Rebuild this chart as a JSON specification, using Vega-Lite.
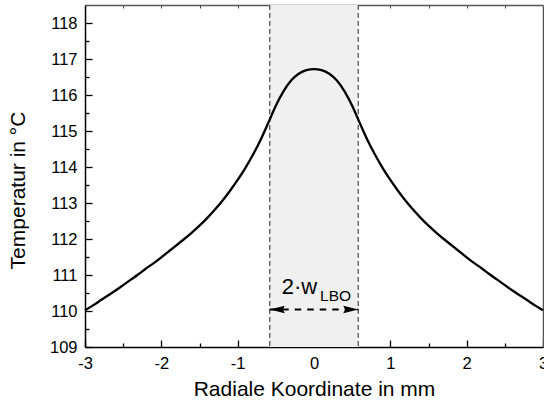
{
  "$schema": "https://vega.github.io/schema/vega-lite/v6.json",
  "width": 458,
  "height": 342,
  "autosize": {"type": "none"},
  "padding": {"left": 85, "top": 5, "right": 1, "bottom": 59},
  "background": "white",
  "config": {
    "view": {"stroke": null},
    "font": "Liberation Sans",
    "axis": {"grid": false, "labelFont": "Liberation Sans", "titleFont": "Liberation Sans", "labelColor": "black", "titleColor": "black", "titleFontWeight": "normal"}
  },
  "datasets": {
    "curve": [
      {"r": -3.0, "t": 110.02}, {"r": -2.9, "t": 110.15}, {"r": -2.8, "t": 110.29}, {"r": -2.7, "t": 110.43},
      {"r": -2.6, "t": 110.57}, {"r": -2.5, "t": 110.72}, {"r": -2.4, "t": 110.87}, {"r": -2.3, "t": 111.02},
      {"r": -2.2, "t": 111.18}, {"r": -2.1, "t": 111.33}, {"r": -2.0, "t": 111.49}, {"r": -1.9, "t": 111.66},
      {"r": -1.8, "t": 111.83}, {"r": -1.7, "t": 112.0}, {"r": -1.6, "t": 112.18}, {"r": -1.5, "t": 112.37},
      {"r": -1.4, "t": 112.58}, {"r": -1.3, "t": 112.81}, {"r": -1.2, "t": 113.06}, {"r": -1.1, "t": 113.34},
      {"r": -1.0, "t": 113.64}, {"r": -0.9, "t": 113.97}, {"r": -0.8, "t": 114.34}, {"r": -0.7, "t": 114.75},
      {"r": -0.6, "t": 115.22}, {"r": -0.5, "t": 115.7}, {"r": -0.4, "t": 116.1}, {"r": -0.3, "t": 116.4},
      {"r": -0.2, "t": 116.59}, {"r": -0.1, "t": 116.69}, {"r": 0.0, "t": 116.72}, {"r": 0.1, "t": 116.69},
      {"r": 0.2, "t": 116.59}, {"r": 0.3, "t": 116.4}, {"r": 0.4, "t": 116.1}, {"r": 0.5, "t": 115.7},
      {"r": 0.6, "t": 115.22}, {"r": 0.7, "t": 114.75}, {"r": 0.8, "t": 114.34}, {"r": 0.9, "t": 113.97},
      {"r": 1.0, "t": 113.64}, {"r": 1.1, "t": 113.34}, {"r": 1.2, "t": 113.06}, {"r": 1.3, "t": 112.81},
      {"r": 1.4, "t": 112.58}, {"r": 1.5, "t": 112.37}, {"r": 1.6, "t": 112.18}, {"r": 1.7, "t": 112.0},
      {"r": 1.8, "t": 111.83}, {"r": 1.9, "t": 111.66}, {"r": 2.0, "t": 111.49}, {"r": 2.1, "t": 111.33},
      {"r": 2.2, "t": 111.18}, {"r": 2.3, "t": 111.02}, {"r": 2.4, "t": 110.87}, {"r": 2.5, "t": 110.72},
      {"r": 2.6, "t": 110.57}, {"r": 2.7, "t": 110.43}, {"r": 2.8, "t": 110.29}, {"r": 2.9, "t": 110.15},
      {"r": 3.0, "t": 110.02}
    ],
    "band": [{"lo": -0.58, "hi": 0.58}],
    "edges": [{"r": -0.58}, {"r": 0.58}]
  },
  "layer": [
    {
      "data": {"name": "band"},
      "mark": {"type": "rect", "color": "#f0f0f0"},
      "encoding": {
        "x": {"field": "lo", "type": "quantitative",
          "scale": {"domain": [-3, 3], "nice": false, "zero": false},
          "axis": {"orient": "bottom", "values": [-3, -2, -1, 0, 1, 2, 3], "tickSize": -7, "tickWidth": 1.3, "tickColor": "black",
            "domainColor": "black", "domainWidth": 1.5, "labelFontSize": 16.5, "labelPadding": 15, "labelFlush": false, "labelBound": false,
            "labelOverlap": false, "labelExpr": "datum.value < 0 ? '-' + abs(datum.value) : '' + datum.value",
            "title": "Radiale Koordinate in mm", "titleFontSize": 21, "titleY": 48, "titleBaseline": "alphabetic"}},
        "x2": {"field": "hi"},
        "y": {"datum": 118.5, "type": "quantitative",
          "scale": {"domain": [109, 118.5], "nice": false, "zero": false},
          "axis": {"orient": "left", "values": [109, 110, 111, 112, 113, 114, 115, 116, 117, 118], "tickSize": -7, "tickWidth": 1.3, "tickColor": "black",
            "domainColor": "black", "domainWidth": 1.5, "labelFontSize": 16.5, "labelPadding": 15, "labelFlush": false, "labelBound": false,
            "labelOverlap": false, "title": "Temperatur in °C", "titleFontSize": 21, "titleX": -61, "titleY": 185, "titleAngle": -90, "titleBaseline": "alphabetic", "titleAlign": "center"}},
        "y2": {"datum": 109}
      }
    },
    {
      "data": {"name": "edges"},
      "mark": {"type": "rule", "color": "#555555", "strokeWidth": 1.3, "strokeDash": [5, 3]},
      "encoding": {
        "x": {"field": "r", "type": "quantitative",
          "scale": {"domain": [-3, 3], "nice": false, "zero": false},
          "axis": {"orient": "bottom", "values": [-2.5, -1.5, -0.5, 0.5, 1.5, 2.5], "tickSize": -4, "tickWidth": 1.3, "tickColor": "black",
            "domain": false, "labels": false, "title": null}}
      }
    },
    {
      "data": {"name": "curve"},
      "mark": {"type": "line", "color": "black", "strokeWidth": 2.3, "interpolate": "natural"},
      "encoding": {
        "x": {"field": "r", "type": "quantitative",
          "scale": {"domain": [-3, 3], "nice": false, "zero": false},
          "axis": {"orient": "top", "values": [-2.5, -2, -1.5, -1, -0.5, 0, 0.5, 1, 1.5, 2, 2.5], "tickSize": -3, "tickWidth": 1, "tickColor": "#444444",
            "domainColor": "#555555", "domainWidth": 1.5, "labels": false, "title": null}},
        "y": {"field": "t", "type": "quantitative",
          "scale": {"domain": [109, 118.5], "nice": false, "zero": false},
          "axis": {"orient": "right", "ticks": false, "labels": false, "domainColor": "#555555", "domainWidth": 1.5, "title": null}}
      }
    },
    {
      "data": {"name": "band"},
      "mark": {"type": "rule", "color": "black", "strokeWidth": 2, "strokeDash": [6.5, 6]},
      "encoding": {
        "x": {"field": "lo", "type": "quantitative", "scale": {"domain": [-3, 3], "nice": false, "zero": false}, "axis": null},
        "x2": {"field": "hi"},
        "y": {"datum": 110.04, "type": "quantitative",
          "scale": {"domain": [109, 118.5], "nice": false, "zero": false},
          "axis": {"orient": "left", "values": [109.5, 110.5, 111.5, 112.5, 113.5, 114.5, 115.5, 116.5, 117.5], "tickSize": -4, "tickWidth": 1.3, "tickColor": "black",
            "domain": false, "labels": false, "title": null}}
      }
    },
    {
      "data": {"name": "band"},
      "mark": {"type": "point", "filled": true, "color": "black", "opacity": 1, "size": 225, "shape": "M-1,0L1,-0.5L0.75,0L1,0.5Z", "xOffset": 7.5},
      "encoding": {
        "x": {"field": "lo", "type": "quantitative", "scale": {"domain": [-3, 3], "nice": false, "zero": false}, "axis": null},
        "y": {"datum": 110.04, "type": "quantitative", "scale": {"domain": [109, 118.5], "nice": false, "zero": false}, "axis": null}
      }
    },
    {
      "data": {"name": "band"},
      "mark": {"type": "point", "filled": true, "color": "black", "opacity": 1, "size": 225, "shape": "M1,0L-1,-0.5L-0.75,0L-1,0.5Z", "xOffset": -7.5},
      "encoding": {
        "x": {"field": "hi", "type": "quantitative", "scale": {"domain": [-3, 3], "nice": false, "zero": false}, "axis": null},
        "y": {"datum": 110.04, "type": "quantitative", "scale": {"domain": [109, 118.5], "nice": false, "zero": false}, "axis": null}
      }
    },
    {
      "data": {"values": [{"label": "2·w"}]},
      "mark": {"type": "text", "align": "left", "baseline": "alphabetic", "fontSize": 22, "color": "black", "font": "Liberation Sans"},
      "encoding": {
        "text": {"field": "label"},
        "x": {"datum": -0.423, "type": "quantitative", "scale": {"domain": [-3, 3], "nice": false, "zero": false}, "axis": null},
        "y": {"datum": 110.47, "type": "quantitative", "scale": {"domain": [109, 118.5], "nice": false, "zero": false}, "axis": null}
      }
    },
    {
      "data": {"values": [{"label": "LBO"}]},
      "mark": {"type": "text", "align": "left", "baseline": "alphabetic", "fontSize": 15.5, "color": "black", "font": "Liberation Sans"},
      "encoding": {
        "text": {"field": "label"},
        "x": {"datum": 0.079, "type": "quantitative", "scale": {"domain": [-3, 3], "nice": false, "zero": false}, "axis": null},
        "y": {"datum": 110.29, "type": "quantitative", "scale": {"domain": [109, 118.5], "nice": false, "zero": false}, "axis": null}
      }
    }
  ],
  "resolve": {"axis": {"x": "independent", "y": "independent"}}
}
